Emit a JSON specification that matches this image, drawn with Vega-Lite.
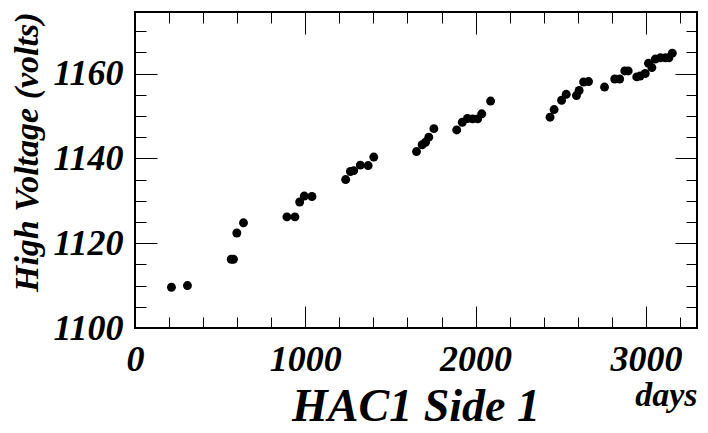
{
  "$schema": "https://vega.github.io/schema/vega-lite/v6.json",
  "width": 562,
  "height": 316,
  "autosize": {"type": "none"},
  "padding": {"left": 135, "top": 12, "right": 11, "bottom": 105},
  "background": "white",
  "config": {
    "view": {"stroke": "black", "strokeWidth": 2},
    "font": "Liberation Serif"
  },
  "title": {
    "text": "HAC1 Side 1",
    "orient": "bottom",
    "anchor": "middle",
    "font": "Liberation Serif",
    "fontSize": 46,
    "fontStyle": "italic",
    "fontWeight": "bold",
    "color": "black",
    "offset": -27
  },
  "data": {
    "values": [
      {"days": 214, "hv": 1109.6}, {"days": 308, "hv": 1110.0}, {"days": 565, "hv": 1116.2}, {"days": 578, "hv": 1116.2},
      {"days": 598, "hv": 1122.4}, {"days": 637, "hv": 1124.8}, {"days": 892, "hv": 1126.2}, {"days": 939, "hv": 1126.2},
      {"days": 967, "hv": 1129.7}, {"days": 994, "hv": 1131.1}, {"days": 1039, "hv": 1131.0}, {"days": 1237, "hv": 1135.0},
      {"days": 1265, "hv": 1136.9}, {"days": 1284, "hv": 1137.1}, {"days": 1323, "hv": 1138.4}, {"days": 1369, "hv": 1138.3},
      {"days": 1402, "hv": 1140.3}, {"days": 1653, "hv": 1141.6}, {"days": 1686, "hv": 1143.2}, {"days": 1706, "hv": 1143.8},
      {"days": 1725, "hv": 1145.0}, {"days": 1755, "hv": 1147.0}, {"days": 1889, "hv": 1146.7}, {"days": 1922, "hv": 1148.5},
      {"days": 1952, "hv": 1149.4}, {"days": 1982, "hv": 1149.3}, {"days": 2012, "hv": 1149.3}, {"days": 2036, "hv": 1150.5},
      {"days": 2088, "hv": 1153.5}, {"days": 2437, "hv": 1149.7}, {"days": 2461, "hv": 1151.5}, {"days": 2505, "hv": 1153.7},
      {"days": 2532, "hv": 1155.1}, {"days": 2592, "hv": 1154.8}, {"days": 2608, "hv": 1156.0}, {"days": 2634, "hv": 1158.0},
      {"days": 2663, "hv": 1158.1}, {"days": 2757, "hv": 1156.8}, {"days": 2817, "hv": 1158.7}, {"days": 2846, "hv": 1158.7},
      {"days": 2876, "hv": 1160.6}, {"days": 2896, "hv": 1160.6}, {"days": 2946, "hv": 1159.2}, {"days": 2966, "hv": 1159.4},
      {"days": 2996, "hv": 1160.0}, {"days": 3015, "hv": 1162.4}, {"days": 3035, "hv": 1161.4}, {"days": 3055, "hv": 1163.4},
      {"days": 3085, "hv": 1163.7}, {"days": 3115, "hv": 1163.7}, {"days": 3135, "hv": 1163.7}, {"days": 3155, "hv": 1164.8}
    ]
  },
  "layer": [
    {
      "mark": {"type": "circle", "color": "black", "opacity": 1, "size": 80},
      "encoding": {
        "x": {
          "field": "days", "type": "quantitative",
          "scale": {"domain": [0, 3300], "nice": false, "zero": false},
          "axis": {
            "orient": "bottom",
            "values": [0, 200, 400, 600, 800, 1000, 1200, 1400, 1600, 1800, 2000, 2200, 2400, 2600, 2800, 3000, 3200],
            "labelExpr": "datum.value % 1000 === 0 ? datum.label : ''",
            "format": "d",
            "domain": false,
            "grid": false,
            "tickColor": "black",
            "tickWidth": 1,
            "tickSize": {"condition": {"test": "datum.value % 1000 === 0", "value": -22}, "value": -11},
            "labelPadding": 36,
            "labelFont": "Liberation Serif",
            "labelFontSize": 36,
            "labelFontStyle": "italic",
            "labelFontWeight": "bold",
            "labelColor": "black",
            "labelFlush": false,
            "labelOverlap": false,
            "title": "days",
            "titleFont": "Liberation Serif",
            "titleFontSize": 34,
            "titleFontStyle": "italic",
            "titleFontWeight": "bold",
            "titleColor": "black",
            "titleAnchor": "end",
            "titleAlign": "right",
            "titlePadding": -10
          }
        },
        "y": {
          "field": "hv", "type": "quantitative",
          "scale": {"domain": [1100, 1174.5], "nice": false, "zero": false},
          "axis": {
            "orient": "left",
            "values": [1100, 1105, 1110, 1115, 1120, 1125, 1130, 1135, 1140, 1145, 1150, 1155, 1160, 1165, 1170],
            "labelExpr": "datum.value % 20 === 0 ? datum.label : ''",
            "format": "d",
            "domain": false,
            "grid": false,
            "tickColor": "black",
            "tickWidth": 1,
            "tickSize": {"condition": {"test": "datum.value % 20 === 0", "value": -22}, "value": -11},
            "labelPadding": 34,
            "labelFont": "Liberation Serif",
            "labelFontSize": 36,
            "labelFontStyle": "italic",
            "labelFontWeight": "bold",
            "labelColor": "black",
            "labelFlush": false,
            "labelOverlap": false,
            "title": "High Voltage (volts)",
            "titleFont": "Liberation Serif",
            "titleFontSize": 34,
            "titleFontStyle": "italic",
            "titleFontWeight": "bold",
            "titleColor": "black",
            "titleAnchor": "end",
            "titlePadding": 8
          }
        }
      }
    },
    {
      "mark": {"type": "circle", "opacity": 0},
      "encoding": {
        "x": {
          "field": "days", "type": "quantitative",
          "axis": {
            "orient": "top",
            "values": [0, 200, 400, 600, 800, 1000, 1200, 1400, 1600, 1800, 2000, 2200, 2400, 2600, 2800, 3000, 3200],
            "labels": false,
            "domain": false,
            "grid": false,
            "tickColor": "black",
            "tickWidth": 1,
            "tickSize": {"condition": {"test": "datum.value % 1000 === 0", "value": -22}, "value": -11},
            "title": null
          }
        },
        "y": {
          "field": "hv", "type": "quantitative",
          "axis": {
            "orient": "right",
            "values": [1100, 1105, 1110, 1115, 1120, 1125, 1130, 1135, 1140, 1145, 1150, 1155, 1160, 1165, 1170],
            "labels": false,
            "domain": false,
            "grid": false,
            "tickColor": "black",
            "tickWidth": 1,
            "tickSize": {"condition": {"test": "datum.value % 20 === 0", "value": -22}, "value": -11},
            "title": null
          }
        }
      }
    }
  ],
  "resolve": {"axis": {"x": "independent", "y": "independent"}}
}
